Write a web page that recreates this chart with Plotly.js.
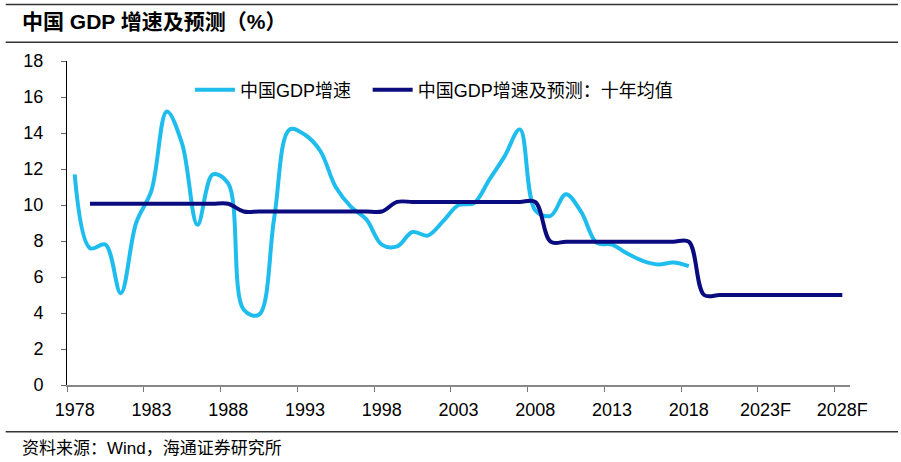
<!DOCTYPE html>
<html>
<head>
<meta charset="utf-8">
<script src="https://cdn.plot.ly/plotly-3.0.1.min.js"></script>
<style>html,body{margin:0;padding:0;background:#fff;}#chart{width:901px;height:462px;}</style>
</head>
<body>
<div id="chart"></div>
<script>
// ---- data ----
const gdpYears = [1978,1979,1980,1981,1982,1983,1984,1985,1986,1987,1988,1989,1990,1991,1992,1993,1994,1995,1996,1997,1998,1999,2000,2001,2002,2003,2004,2005,2006,2007,2008,2009,2010,2011,2012,2013,2014,2015,2016,2017,2018];
const gdpGrowth = [11.7,7.6,7.8,5.1,9.0,10.8,15.2,13.4,8.9,11.7,11.2,4.2,3.9,9.3,14.2,13.9,13.0,11.0,9.9,9.2,7.8,7.7,8.5,8.3,9.1,10.0,10.1,11.4,12.7,14.2,9.7,9.4,10.6,9.6,7.9,7.8,7.3,6.9,6.7,6.8,6.6];
const avgYears = [1979,1980,1981,1982,1983,1984,1985,1986,1987,1988,1989,1990,1991,1992,1993,1994,1995,1996,1997,1998,1999,2000,2001,2002,2003,2004,2005,2006,2007,2008,2009,2010,2011,2012,2013,2014,2015,2016,2017,2018,2019,2020,2021,2022,2023,2024,2025,2026,2027,2028];
const tenYearAvg = [10.07,10.07,10.07,10.07,10.07,10.07,10.07,10.07,10.07,10.07,
                    9.64,9.64,9.64,9.64,9.64,9.64,9.64,9.64,9.64,9.64,
                    10.17,10.17,10.17,10.17,10.17,10.17,10.17,10.17,10.17,10.17,
                    7.96,7.96,7.96,7.96,7.96,7.96,7.96,7.96,7.96,7.96,
                    5.0,5.0,5.0,5.0,5.0,5.0,5.0,5.0,5.0,5.0];
const tickYears = [1978,1983,1988,1993,1998,2003,2008,2013,2018,2023,2028];
const tickLabels = ['1978','1983','1988','1993','1998','2003','2008','2013','2018','2023F','2028F'];
const seriesNames = ['中国GDP增速','中国GDP增速及预测：十年均值'];
const titleText = '中国 GDP 增速及预测（%）';
const sourceText = '资料来源：Wind，海通证券研究所';

// ---- chart ----
const FONT = 'Liberation Sans, Arial, Noto Sans CJK SC, sans-serif';
const traces = [
  {x: gdpYears, y: gdpGrowth, name: seriesNames[0], type: 'scatter', mode: 'lines', legend: 'legend',
   line: {color: '#1FBDEE', width: 4, shape: 'spline', smoothing: 1}, hoverinfo: 'skip'},
  {x: avgYears, y: tenYearAvg, name: seriesNames[1], type: 'scatter', mode: 'lines', legend: 'legend2',
   line: {color: '#0B0B80', width: 4, shape: 'spline', smoothing: 1}, hoverinfo: 'skip'}
];
const boundaryTicks = tickYears.map(v => v - 0.5);
const lineColor = '#333333';
function hline(py, x0, x1) {
  return {type: 'line', xref: 'paper', yref: 'paper', x0: x0, x1: x1, y0: py, y1: py,
          line: {color: lineColor, width: 1.5}};
}
const legendFont = {family: FONT, size: 18, color: '#000'};
const layout = {
  width: 901, height: 462,
  margin: {l: 67, r: 51, t: 61, b: 77, pad: 0},
  paper_bgcolor: '#ffffff', plot_bgcolor: '#ffffff',
  font: {family: FONT, size: 18, color: '#000000'},
  title: {text: titleText, xref: 'container', yref: 'container', x: 0.0244, xanchor: 'left',
          y: 0.953, yanchor: 'middle', font: {family: FONT, size: 21, weight: 'bold', color: '#000'}},
  showlegend: true,
  legend: {orientation: 'h', x: 0.157, xanchor: 'left', y: 0.91, yanchor: 'middle',
           bgcolor: 'rgba(0,0,0,0)', font: legendFont, itemwidth: 40},
  legend2: {orientation: 'h', x: 0.384, xanchor: 'left', y: 0.91, yanchor: 'middle',
            bgcolor: 'rgba(0,0,0,0)', font: legendFont, itemwidth: 40},
  xaxis: {range: [1977.5, 2028.5], tickmode: 'array', tickvals: tickYears, ticktext: tickLabels,
          ticks: '', showgrid: false, zeroline: false, showline: true, linecolor: '#888888', linewidth: 1.5,
          tickfont: {family: FONT, size: 18, color: '#000'}, automargin: false, ticklabelstandoff: 8,
          minor: {tickmode: 'array', tickvals: boundaryTicks, ticks: 'outside', ticklen: 5,
                  tickcolor: '#777777', tickwidth: 1, showgrid: false}},
  yaxis: {range: [0, 18], dtick: 2, tick0: 0, ticks: 'outside', ticklen: 5, tickcolor: '#666666',
          showgrid: false, zeroline: false, showline: true, linecolor: '#000000', linewidth: 1,
          tickfont: {family: FONT, size: 18, color: '#000'}, ticklabelstandoff: 14, automargin: false},
  shapes: [hline(1.1744, -0.0783, 1.0613), hline(1.0577, -0.0783, 1.0613), hline(-0.1441, -0.0783, 1.0613)],
  annotations: [{text: sourceText, xref: 'paper', yref: 'paper', x: -0.0604, xanchor: 'left',
                 y: -0.195, yanchor: 'middle', showarrow: false,
                 font: {family: FONT, size: 17, color: '#000'}}]
};
Plotly.newPlot('chart', traces, layout, {displayModeBar: false, staticPlot: true});
</script>
</body>
</html>
